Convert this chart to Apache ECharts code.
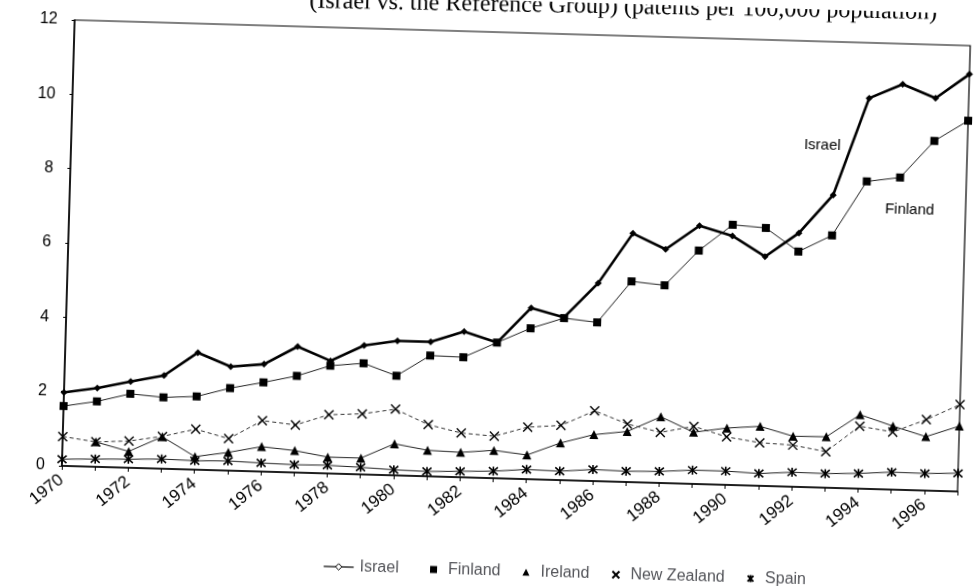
<!DOCTYPE html>
<html>
<head>
<meta charset="utf-8">
<script src="https://cdn.jsdelivr.net/npm/echarts@6/dist/echarts.min.js"></script>
<style>
  html, body { margin: 0; padding: 0; background: #fff; }
  #main {
    width: 978px; height: 586px;
    /* the scan is tilted a little clockwise */
    transform: rotate(1.64deg);
    transform-origin: 489px 293px;
  }
</style>
</head>
<body>
<div id="main"></div>
<script>
const years = [];
for (let y = 1970; y <= 1997; y++) years.push(String(y));

const israel = [1.98, 2.12, 2.32, 2.51, 3.15, 2.80, 2.89, 3.39, 3.03, 3.47, 3.62, 3.62, 3.92, 3.65,
  4.61, 4.38, 5.33, 6.69, 6.29, 6.95, 6.70, 6.17, 6.83, 7.88, 10.51, 10.91, 10.56, 11.23];
const finland = [1.61, 1.76, 1.99, 1.92, 1.97, 2.22, 2.40, 2.60, 2.90, 2.99, 2.68, 3.25, 3.23, 3.65,
  4.06, 4.36, 4.27, 5.40, 5.32, 6.28, 7.00, 6.94, 6.33, 6.79, 8.27, 8.40, 9.41, 9.98];
// no Ireland value for 1970
const ireland = [null, 0.67, 0.44, 0.86, 0.35, 0.49, 0.67, 0.59, 0.44, 0.44, 0.85, 0.70, 0.67, 0.75,
  0.65, 1.00, 1.25, 1.36, 1.78, 1.39, 1.53, 1.60, 1.36, 1.37, 1.99, 1.71, 1.45, 1.76];
const newZealand = [0.79, 0.67, 0.72, 0.87, 1.09, 0.86, 1.37, 1.28, 1.58, 1.63, 1.78, 1.39, 1.19, 1.13,
  1.40, 1.47, 1.89, 1.56, 1.36, 1.55, 1.29, 1.16, 1.12, 0.97, 1.68, 1.55, 1.91, 2.34];
const spain = [0.18, 0.21, 0.23, 0.26, 0.24, 0.26, 0.23, 0.21, 0.22, 0.19, 0.15, 0.13, 0.16, 0.19,
  0.26, 0.24, 0.31, 0.29, 0.31, 0.37, 0.37, 0.33, 0.39, 0.38, 0.41, 0.47, 0.46, 0.49];

const yTicks = { min: 0, max: 12, interval: 2 };
// only the lower part of the title survives in the scan
const titleText = '(Israel vs. the Reference Group) (patents per 100,000 population)';

const crossPath = 'path://M0,0L10,10M10,0L0,10';
const starPath = 'path://M0,0L10,10M10,0L0,10M5,-1L5,11';
const sans = '"Liberation Sans", Arial, sans-serif';

let myChart = echarts.init(document.getElementById('main'));
let option;

option = {
  animation: false,
  textStyle: { fontFamily: sans, color: '#000' },
  grid: {
    left: 67, top: 32, width: 896, height: 446,
    show: true, borderColor: '#000', borderWidth: 1.2
  },
  graphic: [
    {
      type: 'text', x: 929, y: 12, rotation: 0.0105,
      style: { text: titleText, font: '24px "Liberation Serif", serif', fill: '#000',
        textAlign: 'right', verticalAlign: 'bottom' }
    },
    {
      type: 'text', x: 818, y: 136,
      style: { text: 'Israel', font: '15px ' + sans, fill: '#000',
        textAlign: 'center', verticalAlign: 'middle' }
    },
    {
      type: 'text', x: 907, y: 198,
      style: { text: 'Finland', font: '15px ' + sans, fill: '#000',
        textAlign: 'center', verticalAlign: 'middle' }
    }
  ],
  legend: [
    {
      data: ['Israel'],
      left: 326, top: 558,
      itemWidth: 30, itemHeight: 8, selectedMode: false,
      textStyle: { fontSize: 16, fontFamily: sans, padding: [0, 0, 0, 1] },
      itemStyle: { color: '#fff', borderColor: '#000', borderWidth: 1 },
      lineStyle: { width: 1.2, color: '#000' }
    },
    {
      data: [
        { name: 'Finland', icon: 'rect' },
        { name: 'Ireland', icon: 'triangle' },
        { name: 'New Zealand', icon: crossPath },
        { name: 'Spain', icon: starPath }
      ],
      left: 433, top: 558,
      itemWidth: 7, itemHeight: 7, itemGap: 22, selectedMode: false,
      textStyle: { fontSize: 16, fontFamily: sans, padding: [0, 0, 0, 6] }
    }
  ],
  xAxis: {
    type: 'category',
    data: years,
    boundaryGap: false,
    axisLine: { lineStyle: { color: '#000', width: 1.5 } },
    axisTick: { interval: 0, length: 4, lineStyle: { color: '#000' } },
    axisLabel: { interval: 1, rotate: 40, fontSize: 17, margin: 12, color: '#000' },
    splitLine: { show: false }
  },
  yAxis: {
    type: 'value',
    min: yTicks.min, max: yTicks.max, interval: yTicks.interval,
    axisLine: { show: true, lineStyle: { color: '#000', width: 1.5 } },
    axisTick: { show: true, length: 3, lineStyle: { color: '#000' } },
    axisLabel: { fontSize: 16, margin: 17, color: '#000' },
    splitLine: { show: false }
  },
  series: [
    {
      name: 'Spain', type: 'line', data: spain,
      symbol: starPath, symbolSize: 9,
      lineStyle: { color: '#222', width: 1 },
      itemStyle: { color: '#000', borderColor: '#000', borderWidth: 1.6 }
    },
    {
      name: 'New Zealand', type: 'line', data: newZealand,
      symbol: crossPath, symbolSize: 9,
      lineStyle: { color: '#333', width: 1, type: [4, 3] },
      itemStyle: { color: '#000', borderColor: '#000', borderWidth: 1.4 }
    },
    {
      name: 'Ireland', type: 'line', data: ireland,
      symbol: 'triangle', symbolSize: 9,
      lineStyle: { color: '#222', width: 1 },
      itemStyle: { color: '#000' }
    },
    {
      name: 'Finland', type: 'line', data: finland,
      symbol: 'rect', symbolSize: 8,
      lineStyle: { color: '#222', width: 1 },
      itemStyle: { color: '#000' }
    },
    {
      name: 'Israel', type: 'line', data: israel,
      symbol: 'diamond', symbolSize: 7,
      lineStyle: { color: '#000', width: 2.6 },
      itemStyle: { color: '#000' }
    }
  ]
};

option && myChart.setOption(option);
</script>
</body>
</html>
